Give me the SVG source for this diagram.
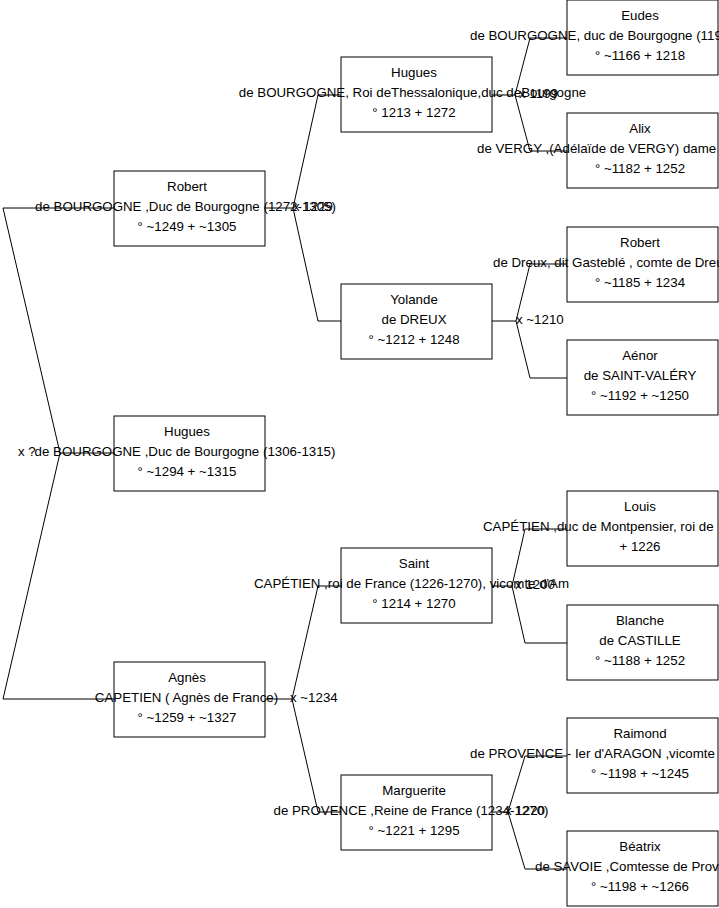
<svg xmlns="http://www.w3.org/2000/svg" width="719" height="908" viewBox="0 0 719 908">
<style>
rect.box{fill:#fff;stroke:#000;stroke-width:1}
.c path{fill:none;stroke:#000;stroke-width:1}
text{font-family:"Liberation Sans",Arial,sans-serif;font-size:13.3px;fill:#000}
.m{text-anchor:middle}
</style>
<rect x="0" y="0" width="719" height="908" fill="#fff"/>
<g id="connectors" class="c">
<path d="M114,208 H3 L60,453 L3,699 H114 M60,453 H114"/>
<path d="M265,208 H293 M341,95 H318 L293,208 L318,321 H341"/>
<path d="M265,699 H292 M341,586 H318 L292,699 L318,812 H341"/>
<path d="M492,95 H515 M567,38 H530 L515,95 L530,151 H567"/>
<path d="M492,321 H516 M567,264 H530 L516,321 L530,378 H567"/>
<path d="M492,586 H512 M567,529 H525 L512,586 L525,643 H567"/>
<path d="M492,812 H508 M567,756 H525 L508,812 L525,869 H567"/>
<text x="18" y="456">x ?</text>
<text x="293" y="211">x 1229</text>
<text x="290" y="702">x ~1234</text>
<text x="519" y="98">x 1199</text>
<text x="516" y="324">x ~1210</text>
<text x="515" y="589">x 1200</text>
<text x="505" y="815">x 1220</text>
</g>
<g id="robert1">
<rect class="box" x="114" y="171" width="151" height="75"/>
<text class="m" x="187" y="191">Robert</text>
<text class="m" x="185.5" y="211">de BOURGOGNE ,Duc de Bourgogne (1272-1305)</text>
<text class="m" x="187" y="231">° ~1249 + ~1305</text>
</g>
<g id="hugues1">
<rect class="box" x="114" y="416" width="151" height="75"/>
<text class="m" x="187" y="436">Hugues</text>
<text class="m" x="185" y="456">de BOURGOGNE ,Duc de Bourgogne (1306-1315)</text>
<text class="m" x="187" y="476">° ~1294 + ~1315</text>
</g>
<g id="agnes">
<rect class="box" x="114" y="662" width="151" height="75"/>
<text class="m" x="187" y="682">Agnès</text>
<text class="m" x="186.5" y="702">CAPETIEN ( Agnès de France)</text>
<text class="m" x="187" y="722">° ~1259 + ~1327</text>
</g>
<g id="hugues2">
<rect class="box" x="341" y="57" width="151" height="75"/>
<text class="m" x="414" y="77">Hugues</text>
<text class="m" x="412.5" y="97">de BOURGOGNE, Roi deThessalonique,duc deBourgogne</text>
<text class="m" x="414" y="117">° 1213 + 1272</text>
</g>
<g id="yolande">
<rect class="box" x="341" y="284" width="151" height="75"/>
<text class="m" x="414" y="304">Yolande</text>
<text class="m" x="414" y="324">de DREUX</text>
<text class="m" x="414" y="344">° ~1212 + 1248</text>
</g>
<g id="saint">
<rect class="box" x="341" y="548" width="151" height="75"/>
<text class="m" x="414" y="568">Saint</text>
<text class="m" x="411.5" y="588">CAPÉTIEN ,roi de France (1226-1270), vicomte d'Am</text>
<text class="m" x="414" y="608">° 1214 + 1270</text>
</g>
<g id="marguerite">
<rect class="box" x="341" y="775" width="151" height="75"/>
<text class="m" x="414" y="795">Marguerite</text>
<text class="m" x="411" y="815">de PROVENCE ,Reine de France (1234-1270)</text>
<text class="m" x="414" y="835">° ~1221 + 1295</text>
</g>
<g id="eudes">
<rect class="box" x="567" y="0" width="151" height="75"/>
<text class="m" x="640" y="20">Eudes</text>
<text x="470" y="40">de BOURGOGNE, duc de Bourgogne (119</text>
<text class="m" x="640" y="60">° ~1166 + 1218</text>
</g>
<g id="alix">
<rect class="box" x="567" y="113" width="151" height="75"/>
<text class="m" x="640" y="133">Alix</text>
<text x="477" y="153">de VERGY ,(Adélaïde de VERGY) dame</text>
<text class="m" x="640" y="173">° ~1182 + 1252</text>
</g>
<g id="robert3">
<rect class="box" x="567" y="227" width="151" height="75"/>
<text class="m" x="640" y="247">Robert</text>
<text x="493" y="267">de Dreux, dit Gasteblé , comte de Dreu</text>
<text class="m" x="640" y="287">° ~1185 + 1234</text>
</g>
<g id="aenor">
<rect class="box" x="567" y="340" width="151" height="75"/>
<text class="m" x="640" y="360">Aénor</text>
<text class="m" x="640" y="380">de SAINT-VALÉRY</text>
<text class="m" x="640" y="400">° ~1192 + ~1250</text>
</g>
<g id="louis">
<rect class="box" x="567" y="491" width="151" height="75"/>
<text class="m" x="640" y="511">Louis</text>
<text x="483" y="531">CAPÉTIEN ,duc de Montpensier, roi de</text>
<text class="m" x="640" y="551">+ 1226</text>
</g>
<g id="blanche">
<rect class="box" x="567" y="605" width="151" height="75"/>
<text class="m" x="640" y="625">Blanche</text>
<text class="m" x="640" y="645">de CASTILLE</text>
<text class="m" x="640" y="665">° ~1188 + 1252</text>
</g>
<g id="raimond">
<rect class="box" x="567" y="718" width="151" height="75"/>
<text class="m" x="640" y="738">Raimond</text>
<text x="470" y="758">de PROVENCE - Ier d'ARAGON ,vicomte</text>
<text class="m" x="640" y="778">° ~1198 + ~1245</text>
</g>
<g id="beatrix">
<rect class="box" x="567" y="831" width="151" height="75"/>
<text class="m" x="640" y="851">Béatrix</text>
<text x="535" y="871">de SAVOIE ,Comtesse de Prov</text>
<text class="m" x="640" y="891">° ~1198 + ~1266</text>
</g>
</svg>
